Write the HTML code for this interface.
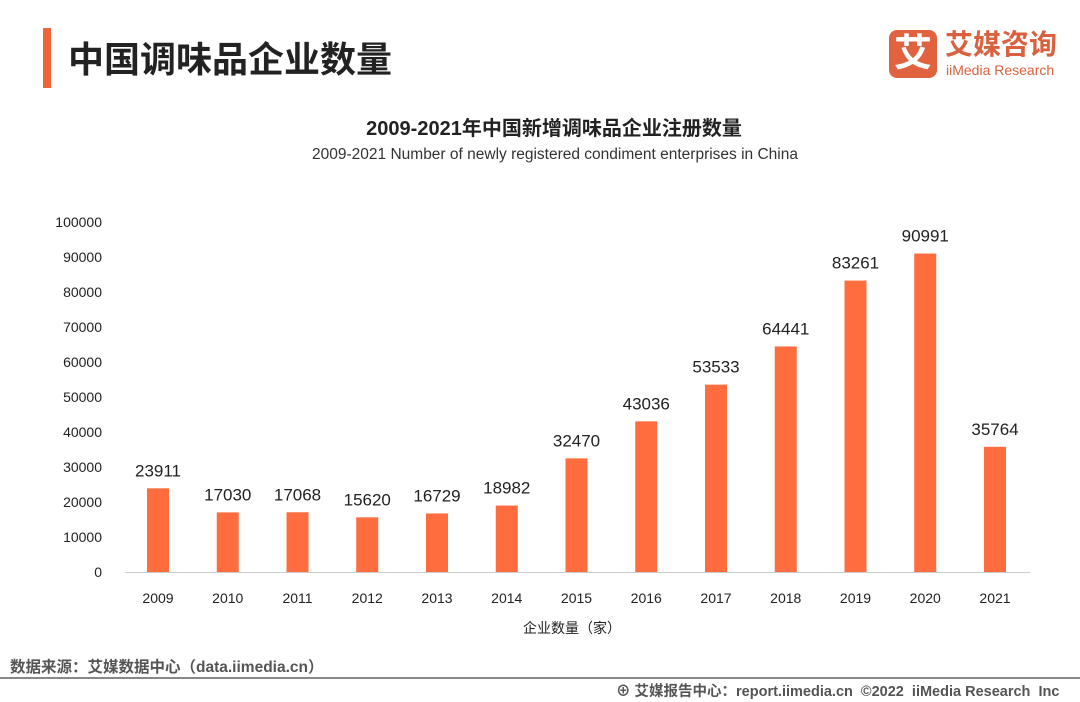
<!DOCTYPE html>
<html><head><meta charset="utf-8"><style>
body{margin:0;width:1080px;height:702px;background:#fff;font-family:"Liberation Sans","Noto Sans CJK SC",sans-serif;position:relative;overflow:hidden}
.a{position:absolute;white-space:nowrap}
</style></head><body>
<div class="a" style="left:43px;top:28px;width:8px;height:60px;background:#f0643c"></div>
<div class="a" style="left:68px;top:31px;font-size:36px;font-weight:bold;color:#222">中国调味品企业数量</div>
<div class="a" style="left:889px;top:30px;width:48px;height:48px;background:#e0623e;border-radius:8px;color:#fff;font-size:38px;font-weight:bold;text-align:center;line-height:48px">艾</div>
<div class="a" style="left:945px;top:30px;font-size:28px;font-weight:bold;color:#d9613e;line-height:30px">艾媒咨询</div>
<div class="a" style="left:946px;top:62px;font-size:14px;color:#d9613e">iiMedia Research</div>
<div class="a" style="left:0;width:1108px;text-align:center;top:112px;font-size:20px;font-weight:bold;color:#222">2009-2021年中国新增调味品企业注册数量</div>
<div class="a" style="left:0;width:1110px;text-align:center;top:146px;font-size:15.5px;color:#333">2009-2021 Number of newly registered condiment enterprises in China</div>
<svg class="a" style="left:0;top:0" width="1080" height="702" id="chart"></svg>
<div class="a" style="left:523px;top:618px;font-size:14px;color:#222">企业数量（家）</div>
<div class="a" style="left:10px;top:655px;font-size:15.5px;color:#555;font-weight:bold">数据来源：艾媒数据中心（data.iimedia.cn）</div>
<div class="a" style="left:0;top:677px;width:1080px;height:2px;background:#888"></div>
<div class="a" style="left:616px;top:680px;font-size:14.5px;color:#555;font-weight:bold">⊕ 艾媒报告中心：report.iimedia.cn &nbsp;©2022 &nbsp;iiMedia Research &nbsp;Inc</div>
<script>
const categories=["2009","2010","2011","2012","2013","2014","2015","2016","2017","2018","2019","2020","2021"];
const values=[23911,17030,17068,15620,16729,18982,32470,43036,53533,64441,83261,90991,35764];
const yTicks=[0,10000,20000,30000,40000,50000,60000,70000,80000,90000,100000];
const svg=document.getElementById('chart');const NS='http://www.w3.org/2000/svg';
const y=v=>572-v*350/100000;const x=i=>158+i*69.75;
function mk(t,a,txt){const e=document.createElementNS(NS,t);for(const k in a)e.setAttribute(k,a[k]);if(txt!==undefined)e.textContent=txt;svg.appendChild(e);return e;}
yTicks.forEach(t=>{const e=mk('text',{x:102,y:y(t)+5,'text-anchor':'end','font-size':14,fill:'#222'},t);

});
const ax=mk('line',{x1:125,x2:1030,y1:572.5,y2:572.5,stroke:'#ccc','stroke-width':1});


categories.forEach((c,i)=>{const v=values[i];
const b=mk('rect',{x:x(i)-11,y:y(v),width:22,height:572-y(v),fill:'#ff6c3e'});


const l=mk('text',{x:x(i),y:y(v)-12,'text-anchor':'middle','font-size':17,fill:'#222'},v);


const t=mk('text',{x:x(i),y:603,'text-anchor':'middle','font-size':14,fill:'#222'},c);

});
</script>
</body></html>
